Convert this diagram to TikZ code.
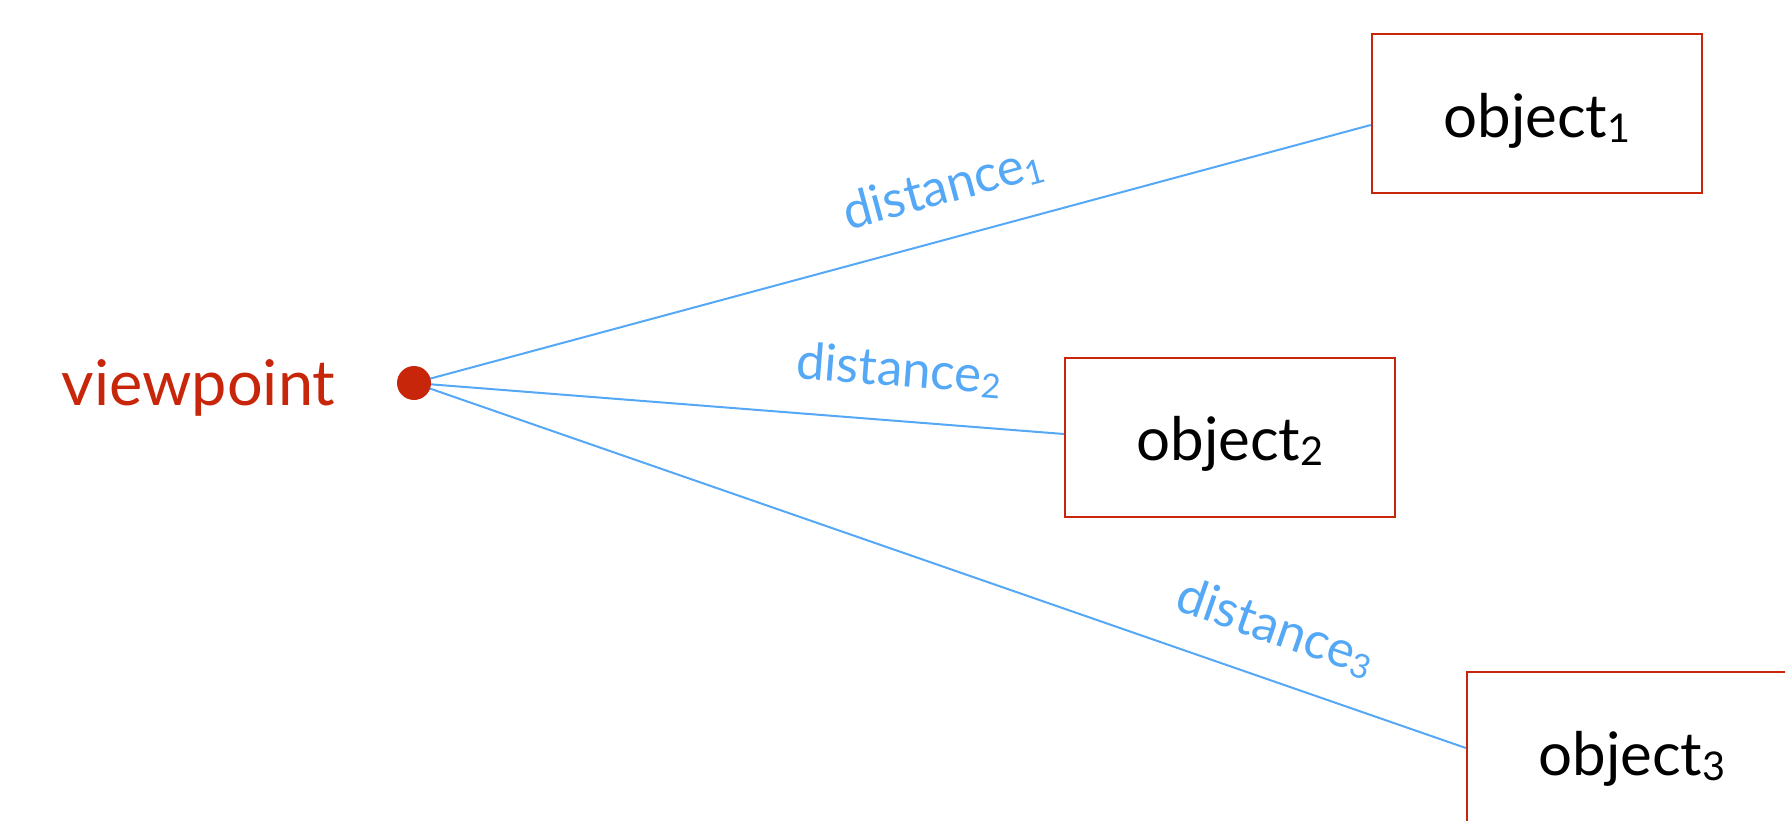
\documentclass[tikz,border=0pt]{standalone}
\usepackage{fontspec}
\setmainfont{Lato}
\usetikzlibrary{backgrounds}
\definecolor{vred}{RGB}{200,38,10}
\definecolor{lblue}{RGB}{84,168,245}
\newcommand{\lowsub}[1]{\raisebox{-0.09em}{\scalebox{0.66}{#1}}}
\begin{document}
\begin{tikzpicture}[x=1pt,y=-1pt,
  box/.style={draw=vred, line width=2.4pt, minimum width=330pt, minimum height=159pt, inner sep=0pt},
  objtext/.style={font=\fontsize{60}{64}\selectfont, text=black, inner sep=0pt},
  vptext/.style={font=\fontsize{63}{66}\selectfont, text=vred, inner sep=0pt},
  conn/.style={draw=lblue, line width=2pt},
  dlabel/.style={font=\fontsize{51}{54}\selectfont, text=lblue, sloped, above=29pt, inner sep=0pt},
  vdot/.style={circle, fill=vred, minimum size=34pt, inner sep=0pt}]
\useasboundingbox (0,0) rectangle (1785,821);
\node[vptext, anchor=base] (vptxt) at (198.5,405) {viewpoint};
\node[vdot] (vp) at (414,383) {};
\node[box, label={[objtext,yshift=-7pt]center:object\lowsub{1}}] (o1) at (1537,113.5) {};
\node[box, label={[objtext,yshift=-6pt]center:object\lowsub{2}}] (o2) at (1230,437.5) {};
\node[box, label={[objtext,yshift=-7pt]center:object\lowsub{3}}] (o3) at (1632,751.5) {};
\begin{scope}[on background layer]
\draw[conn] (vp.center) -- node[dlabel,pos=0.567]{distance\lowsub{1}} ([yshift=-11.5pt]o1.west);
\draw[conn] (vp.center) -- node[dlabel,pos=0.74]{distance\lowsub{2}} ([yshift=3.5pt]o2.west);
\draw[conn] (vp.center) -- node[dlabel,pos=0.803]{distance\lowsub{3}} ([yshift=3.5pt]o3.west);
\end{scope}
\end{tikzpicture}
\end{document}
